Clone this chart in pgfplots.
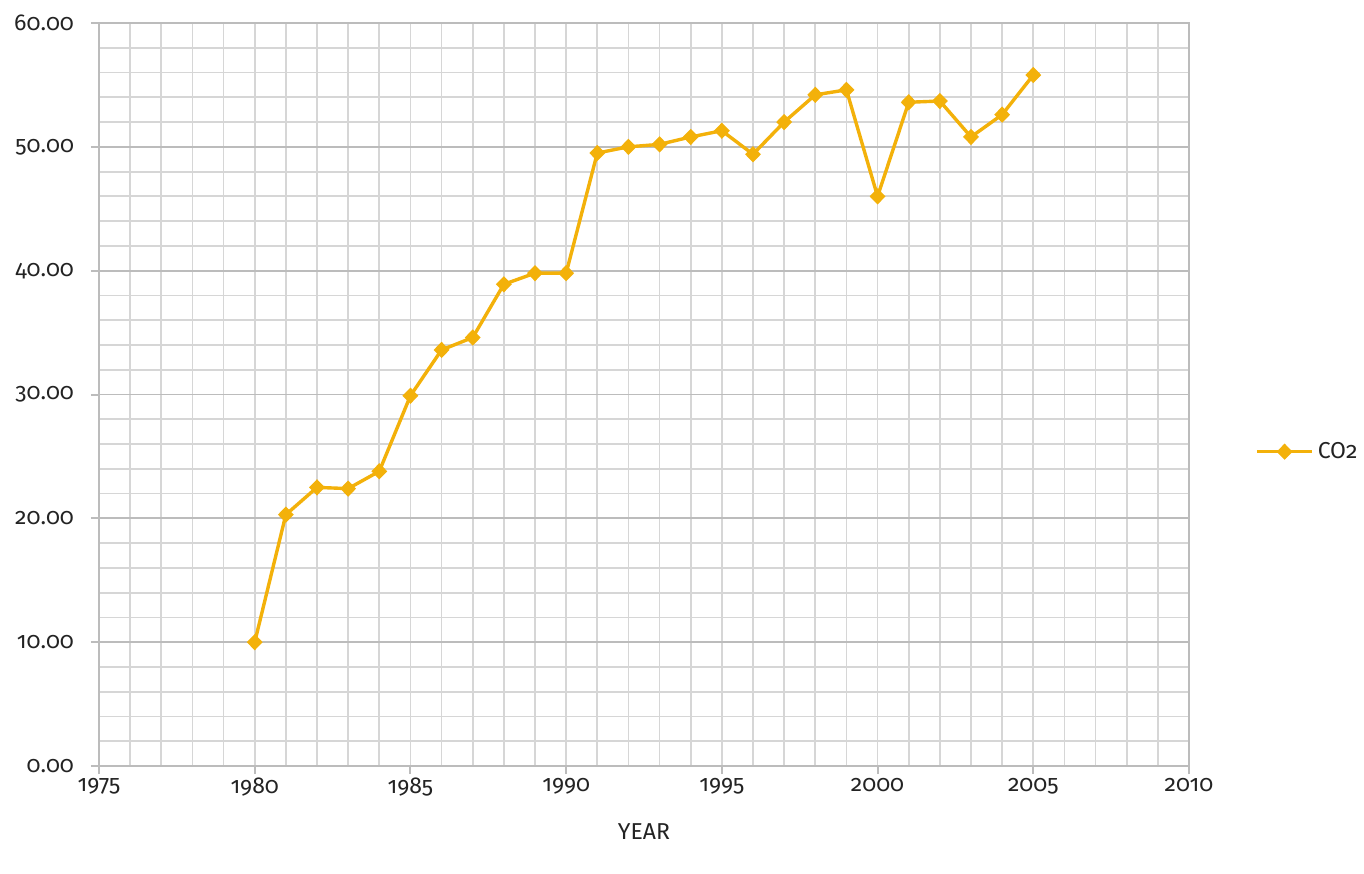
\documentclass[border=0pt]{standalone}
\usepackage{fontspec}
\setmainfont[Numbers=OldStyle]{Fira Sans}
\usepackage{pgfplots}
\pgfplotsset{compat=1.18}
\definecolor{co2}{RGB}{243,177,10}
\definecolor{gridc}{RGB}{214,214,214}
\definecolor{gridm}{RGB}{188,188,188}
\definecolor{txt}{RGB}{35,35,35}
\begin{document}
\begin{tikzpicture}
\path[use as bounding box] (-49.5pt,-53.5pt) rectangle (632.5pt,383pt);
\begin{axis}[
  at={(0,0)}, anchor=south west,
  scale only axis, width=545pt, height=371.5pt,
  xmin=1975, xmax=2010, ymin=0, ymax=60,
  xtick={1975,1980,...,2010}, ytick={0,10,...,60},
  minor x tick num=4, minor y tick num=4,
  grid=both,
  major x grid style={gridc, line width=0.9pt},
  minor x grid style={gridc, line width=0.9pt},
  major y grid style={gridm, line width=0.9pt},
  minor y grid style={gridc, line width=0.9pt},
  axis line style={gridm, line width=1pt},
  tick style={gridm, line width=1pt},
  major tick length=4pt, minor tick length=0pt,
  tick align=outside,
  xtick pos=bottom, ytick pos=left,
  /pgf/number format/assume math mode=true,
  x tick label style={/pgf/number format/1000 sep={}, yshift=1.5pt},
  y tick label style={/pgf/number format/.cd, fixed, fixed zerofill, precision=2, /tikz/.cd, xshift=-5pt},
  ticklabel style={font=\fontsize{11.5}{13}\selectfont, text=txt},
  xlabel={YEAR},
  xlabel style={at={(axis description cs:0.5,0)}, anchor=center, yshift=-33pt, font=\fontsize{11.5}{13}\selectfont, text=txt},
  legend style={draw=none, fill=none, at={(axis description cs:1,0.423)}, anchor=west, xshift=33pt, inner sep=0pt, font=\fontsize{11.5}{13}\selectfont, text=txt},
  legend image code/.code={\draw[mark repeat=2,mark phase=2] plot coordinates {(0pt,0pt) (13.75pt,0pt) (27.5pt,0pt)};},
]
\addplot[co2, line width=1.7pt, mark=diamond*, mark size=3.5pt, mark options={fill=co2, draw=co2, xscale=1.3, line width=0.8pt}] coordinates {
(1980,10.0) (1981,20.3) (1982,22.5) (1983,22.4) (1984,23.8) (1985,29.9)
(1986,33.6) (1987,34.6) (1988,38.9) (1989,39.8) (1990,39.8) (1991,49.5)
(1992,50.0) (1993,50.2) (1994,50.8) (1995,51.3) (1996,49.4) (1997,52.0)
(1998,54.2) (1999,54.6) (2000,46.0) (2001,53.6) (2002,53.7) (2003,50.8)
(2004,52.6) (2005,55.8)
};
\legend{CO2}
\end{axis}
\end{tikzpicture}
\end{document}
